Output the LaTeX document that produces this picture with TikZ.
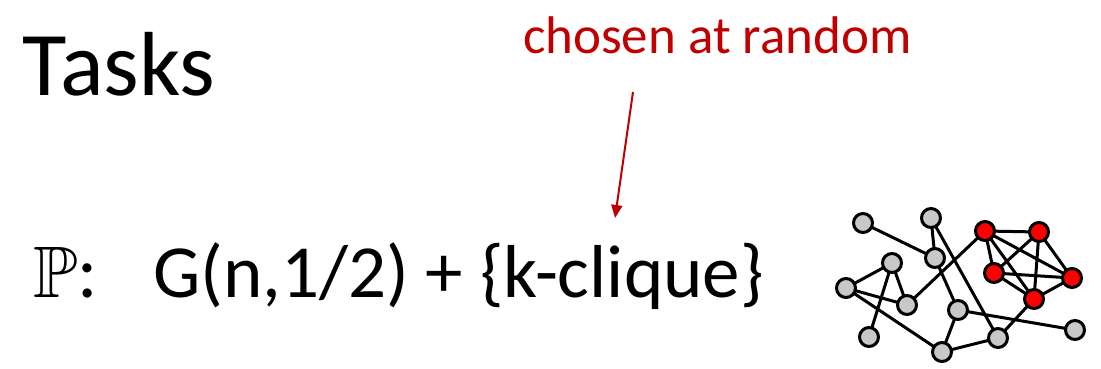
\documentclass[tikz,border=0pt]{standalone}
\usepackage{amssymb}
\usepackage{fontspec}
\setmainfont{Carlito}
\usetikzlibrary{arrows.meta}
\definecolor{darkred}{RGB}{192,0,0}
\definecolor{vgray}{RGB}{200,200,200}
\begin{document}
\begin{tikzpicture}[x=1pt,y=-1pt,
  vert/.style={circle,draw=black,line width=3pt,fill=vgray,minimum size=19pt,inner sep=0pt},
  rvert/.style={vert,fill=red},
  edge/.style={line width=3pt,black},
  txt/.style={anchor=base west,inner sep=0pt,outer sep=0pt}]
\useasboundingbox (0,0) rectangle (1101,368);
\node[txt,font=\fontsize{91}{91}\selectfont] (tasks) at (23,95) {Tasks};
\node[txt,font=\fontsize{53}{53}\selectfont,text=darkred] (chosen) at (523,53) {chosen at random};
\coordinate (arrs) at (633,92);
\coordinate (arre) at (615,218);
\draw[darkred,line width=2pt,-{Triangle[length=13pt,width=11pt]}] (arrs) -- (arre);
\node[txt,font=\fontsize{73}{73}\selectfont] (P) at (33,297) {$\mathbb{P}$\fontsize{76}{76}\selectfont:};
\node[txt,font=\fontsize{75}{75}\selectfont] (expr) at (153,297) {G(n,1/2) + \{k-clique\}};
% graph
\coordinate (pA) at (863,223);
\coordinate (pB) at (931,218);
\coordinate (pC) at (935,258);
\coordinate (pD) at (892,263);
\coordinate (pE) at (846,288);
\coordinate (pF) at (907,305);
\coordinate (pG) at (869,337);
\coordinate (pH) at (958,310);
\coordinate (pI) at (942,352);
\coordinate (pJ) at (998,338);
\coordinate (pK) at (1075,330);
\coordinate (pR1) at (985,231);
\coordinate (pR2) at (1039,232);
\coordinate (pR3) at (994,273);
\coordinate (pR4) at (1072,278);
\coordinate (pR5) at (1034,299);
\draw[edge] (pA)--(pC) (pB)--(pC) (pB)--(pJ) (pC)--(pH) (pD)--(pE) (pD)--(pF) (pD)--(pG)
  (pE)--(pF) (pE)--(pI) (pF)--(pR1) (pH)--(pI) (pH)--(pK) (pI)--(pJ) (pJ)--(pR5)
  (pR1)--(pR2) (pR1)--(pR3) (pR1)--(pR4) (pR1)--(pR5) (pR2)--(pR3) (pR2)--(pR4) (pR2)--(pR5)
  (pR3)--(pR4) (pR3)--(pR5) (pR4)--(pR5);
\foreach \n in {A,B,C,D,E,F,G,H,I,J,K} \node[vert] (\n) at (p\n) {};
\foreach \n in {R1,R2,R3,R4,R5} \node[rvert] (\n) at (p\n) {};
\end{tikzpicture}
\end{document}
